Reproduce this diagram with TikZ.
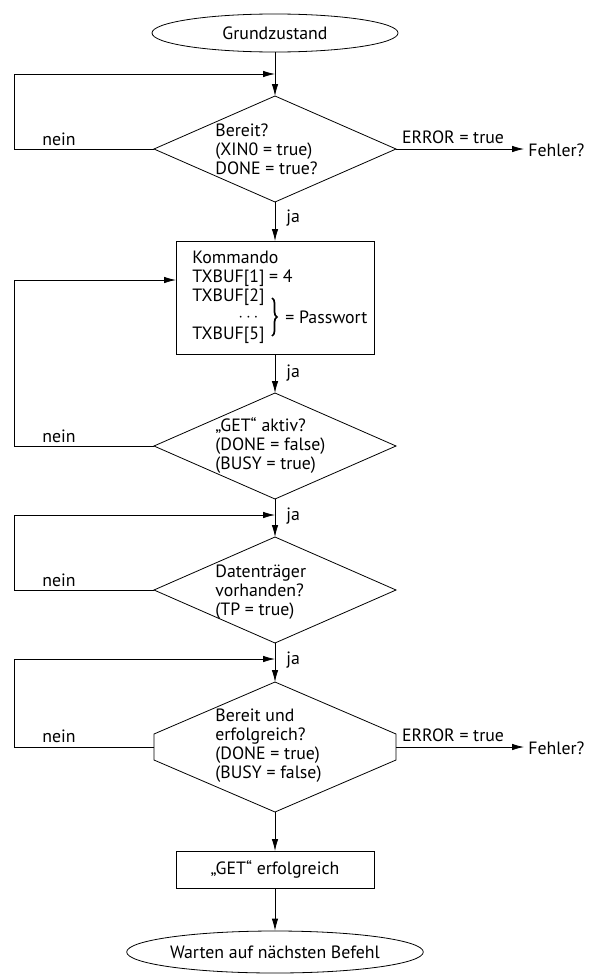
\documentclass[tikz,border=0pt]{standalone}
\usepackage{fontspec}
\setmainfont{PT Sans}
\usetikzlibrary{shapes.geometric,arrows.meta,decorations.pathreplacing}

\begin{document}
\begin{tikzpicture}[x=1pt,y=-1pt,
  line width=0.8pt,
  txt/.style={font=\fontsize{17.8}{19}\selectfont, inner sep=0pt},
  flow/.style={-{Latex[length=12pt,width=6.5pt]}},
  terminal/.style={draw, ellipse, minimum width=246pt, minimum height=38pt, inner sep=0pt, txt},
  decision/.style={draw, diamond, minimum width=242pt, minimum height=106pt, inner sep=0pt, outer sep=0pt},
  process/.style={draw, rectangle, minimum width=198pt, inner sep=0pt, outer sep=0pt, txt},
  lbl/.style={txt, anchor=west},
  cond/.style={txt, anchor=west, align=left}]
\useasboundingbox (0,0) rectangle (589,974);

% --- shapes ---------------------------------------------------------------
\node[terminal] (start) at (275,33) {Grundzustand};

\node[decision] (d1) at (275,149) {};
\node[cond] (d1t) at (215,149) {Bereit?\\(XIN0 = true)\\DONE = true?};

\node[process, minimum height=113pt] (cmd) at (275,297.5) {};
\node[cond] (cmdt) at (192,297) {Kommando\\TXBUF[1] = 4\\TXBUF[2]\\[1pt]\hspace*{46pt}$\cdots$\\[-1pt]TXBUF[5]};
\coordinate (brtop) at (272,298);
\coordinate (brbot) at (272,336);
\draw[line width=1.7pt, decorate, decoration={brace, amplitude=5pt}] (brtop) -- (brbot);
\node[lbl] (pw) at (285,317) {= Passwort};

\node[decision] (d2) at (275,446) {};
\node[cond] (d2t) at (215,446) {„GET“ aktiv?\\(DONE = false)\\(BUSY = true)};

\node[decision] (d3) at (275,590) {};
\node[cond] (d3t) at (215,592) {Datenträger\\vorhanden?\\(TP = true)};

% elongated decision
\coordinate (d4n) at (275,682);
\coordinate (d4ne) at (396,734);
\coordinate (d4e) at (396,747);
\coordinate (d4se) at (396,760);
\coordinate (d4s) at (275,812);
\coordinate (d4sw) at (154,760);
\coordinate (d4w) at (154,747);
\coordinate (d4nw) at (154,734);
\draw (d4n) -- (d4ne) -- (d4se) -- (d4s) -- (d4sw) -- (d4nw) -- cycle;
\node[cond] (d4t) at (215,746) {Bereit und\\erfolgreich?\\(DONE = true)\\(BUSY = false)};

\node[process, minimum height=37pt] (ok) at (275,869.5) {„GET“ erfolgreich};

\node[terminal, minimum height=42pt] (stop) at (275,952) {Warten auf nächsten Befehl};

% --- junctions on the main axis ------------------------------------------------
\coordinate (j1) at (275,74);
\coordinate (j3) at (275,515);
\coordinate (j4) at (275,659);

% --- main flow -------------------------------------------------------------------
\draw[flow] (start.south) -- (d1.north);
\draw[flow] (d1.south) -- (cmd.north);
\draw[flow] (cmd.south) -- (d2.north);
\draw[flow] (d2.south) -- (d3.north);
\draw[flow] (d3.south) -- (d4n);
\draw[flow] (d4s) -- (ok.north);
\draw[flow] (ok.south) -- (stop.north);

% --- loops back ("nein") ---------------------------------------------------------
\draw[flow] (d1.west) -- ++(-140,0) |- (j1);
\draw[flow] (d2.west) -- ++(-140,0) |- (cmd.west |- 0,280);
\draw[flow] (d3.west) -- ++(-140,0) |- (j3);
\draw[flow] (d4w) -- ++(-140,0) |- (j4);

\node[txt] (n1) at (59,139) {nein};
\node[txt] (n2) at (59,436) {nein};
\node[txt] (n3) at (59,580) {nein};
\node[txt] (n4) at (59,736) {nein};

% --- "ja" labels ------------------------------------------------------------------
\node[lbl] (y1) at (286,218) {ja};
\node[lbl] (y2) at (286,373) {ja};
\node[lbl] (y3) at (286,516) {ja};
\node[lbl] (y4) at (286,660) {ja};

% --- error exits -------------------------------------------------------------------
\coordinate (f1) at (524,149);
\coordinate (f2) at (524,747);
\draw[flow] (d1.east) -- (f1);
\draw[flow] (d4e) -- (f2);
\node[txt] (e1) at (453,137) {ERROR = true};
\node[txt] (e2) at (453,735) {ERROR = true};
\node[lbl] (fe1) at (528,150) {Fehler?};
\node[lbl] (fe2) at (528,748) {Fehler?};
\end{tikzpicture}
\end{document}
